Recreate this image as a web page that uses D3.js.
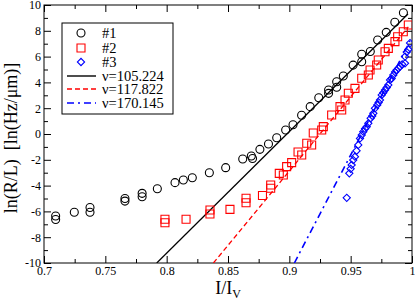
<!DOCTYPE html>
<html><head><meta charset="utf-8">
<script src="https://cdn.jsdelivr.net/npm/d3@7"></script>
<style>body{margin:0;background:#fff}svg{display:block}text{font-family:"Liberation Serif","Times New Roman",serif}</style>
</head><body><div id="c"></div>
<script>
const xTicks = [0.7,0.75,0.8,0.85,0.9,0.95,1];
const xTickLabels = ["0.7","0.75","0.8","0.85","0.9","0.95","1"];
const yTicks = [-10,-8,-6,-4,-2,0,2,4,6,8,10];
const seriesNames = ["#1","#2","#3"];
const fitLabels = ["\u03bd=105.224","\u03bd=117.822","\u03bd=170.145"];
const s1x = [0.7095,0.7095,0.7247,0.7375,0.7375,0.766,0.766,0.780,0.780,0.7924,0.8068,0.8136,0.8209,0.8348,0.8481,0.862,0.869,0.870,0.876,0.883,0.8897,0.897,0.903,0.910,0.917,0.924,0.932,0.932,0.9386,0.9386,0.944,0.952,0.959,0.959,0.966,0.972,0.979,0.986,0.993];
const s1y = [-6.36,-6.63,-6.07,-5.70,-6.07,-5.00,-5.20,-4.60,-4.86,-4.24,-3.77,-3.57,-3.39,-3.00,-2.61,-1.94,-1.70,-1.90,-1.19,-0.78,-0.29,0.31,0.72,1.45,2.12,2.81,3.15,3.41,3.62,4.05,4.50,5.34,5.60,6.18,6.39,7.29,7.88,8.66,9.40];
const s2x = [0.7986,0.7986,0.8158,0.8353,0.8353,0.8516,0.8647,0.8647,0.8781,0.8848,0.8848,0.8918,0.8951,0.8978,0.9019,0.9071,0.9101,0.9142,0.9182,0.9195,0.9264,0.9277,0.9345,0.9413,0.9427,0.9454,0.9481,0.9535,0.9590,0.9644,0.9658,0.9712,0.9725,0.978,0.9807,0.9861,0.9883,0.9929,0.997];
const s2y = [-6.61,-6.88,-6.61,-5.89,-6.20,-5.84,-4.98,-5.33,-4.77,-3.95,-4.21,-3.05,-3.18,-2.53,-2.22,-1.40,-1.63,-0.72,-0.85,0.08,0.31,0.57,1.47,2.12,1.86,2.64,3.16,3.54,4.32,4.57,4.96,5.35,5.74,6.38,6.64,7.16,7.54,7.93,8.45];
const s3x = [0.9468,0.9489,0.9500,0.9508,0.9521,0.9535,0.9548,0.9562,0.9576,0.9590,0.9603,0.9617,0.9631,0.9644,0.9663,0.9676,0.9685,0.9698,0.9717,0.9728,0.9739,0.9753,0.9766,0.9780,0.9794,0.9807,0.9821,0.9834,0.9848,0.9862,0.9875,0.9889,0.9902,0.9920,0.9943,0.9943,0.9957,0.9970,0.9984];
const s3y = [-4.95,-3.05,-2.70,-2.40,-2.02,-1.76,-1.30,-0.85,-0.34,-0.08,0.18,0.40,0.57,0.83,1.22,1.40,1.60,1.99,2.25,2.45,2.64,3.02,3.20,3.41,3.60,3.80,4.19,4.30,4.57,4.80,4.96,5.10,5.22,5.40,5.48,6.00,6.35,6.55,7.05];
const fit1 = [[0.7919,-10],[0.9967,9.3]];
const fit2 = [[0.8381,-10],[0.997,8.3]];
const fit3 = [[0.9041,-10],[0.9984,7.2]];

const W=415,H=303,m={l:44,r:3,t:5,b:40};
const svg=d3.select("#c").append("svg").attr("width",W).attr("height",H);
const x=d3.scaleLinear().domain([0.7,1]).range([m.l,W-m.r]);
const y=d3.scaleLinear().domain([-10,10]).range([H-m.b,m.t]);
svg.append("clipPath").attr("id","cp").append("rect").attr("x",m.l).attr("y",m.t).attr("width",W-m.l-m.r).attr("height",H-m.t-m.b);

const xMinor=d3.range(0.725,1,0.05);
const yMinor=d3.range(-9,10,2);
function ax(axis,tr){const g=svg.append("g").attr("transform",tr).call(axis);g.select(".domain").remove();g.selectAll("line").attr("stroke","#000");return g;}
let g=ax(d3.axisBottom(x).tickValues(xTicks).tickSize(-7).tickPadding(3).tickFormat((d,i)=>xTickLabels[i]),`translate(0,${H-m.b})`);
g.selectAll("text").attr("font-size",12).attr("fill","#000");
ax(d3.axisBottom(x).tickValues(xMinor).tickSize(-4).tickFormat(""),`translate(0,${H-m.b})`);
ax(d3.axisTop(x).tickValues(xTicks).tickSize(-7).tickFormat(""),`translate(0,${m.t})`);
ax(d3.axisTop(x).tickValues(xMinor).tickSize(-4).tickFormat(""),`translate(0,${m.t})`);
g=ax(d3.axisLeft(y).tickValues(yTicks).tickSize(-7).tickPadding(3).tickFormat(d=>String(d)),`translate(${m.l},0)`);
g.selectAll("text").attr("font-size",12).attr("fill","#000");
ax(d3.axisLeft(y).tickValues(yMinor).tickSize(-4).tickFormat(""),`translate(${m.l},0)`);
ax(d3.axisRight(y).tickValues(yTicks).tickSize(-7).tickFormat(""),`translate(${W-m.r},0)`);
ax(d3.axisRight(y).tickValues(yMinor).tickSize(-4).tickFormat(""),`translate(${W-m.r},0)`);
svg.append("rect").attr("x",m.l).attr("y",m.t).attr("width",W-m.l-m.r).attr("height",H-m.t-m.b).attr("fill","none").attr("stroke","#000").attr("stroke-width",1);

const plot=svg.append("g").attr("clip-path","url(#cp)");
const line=d3.line().x(d=>x(d[0])).y(d=>y(d[1]));
plot.append("path").attr("d",line(fit1)).attr("stroke","#000").attr("stroke-width",1.3).attr("fill","none");
plot.append("path").attr("d",line(fit2)).attr("stroke","#ff0000").attr("stroke-width",1.3).attr("stroke-dasharray","5,3").attr("fill","none");
plot.append("path").attr("d",line(fit3)).attr("stroke","#0000ff").attr("stroke-width",1.6).attr("stroke-dasharray","7,4,2,4").attr("fill","none");

const circ=d3.symbol().type(d3.symbolCircle).size(Math.PI*16);
const sq=d3.symbol().type(d3.symbolSquare).size(64);
const dia=d3.symbol().type(d3.symbolSquare).size(26);
const rot=[0,0,45];
plot.selectAll(".s1").data(s1x.map((v,i)=>[v,s1y[i]])).join("path").attr("d",circ).attr("transform",d=>`translate(${x(d[0])},${y(d[1])})`).attr("fill","none").attr("stroke","#000").attr("stroke-width",1.1);
plot.selectAll(".s2").data(s2x.map((v,i)=>[v,s2y[i]])).join("path").attr("d",sq).attr("transform",d=>`translate(${x(d[0])},${y(d[1])})`).attr("fill","none").attr("stroke","#ff0000").attr("stroke-width",1.1);
plot.selectAll(".s3").data(s3x.map((v,i)=>[v,s3y[i]])).join("path").attr("d",dia).attr("transform",d=>`translate(${x(d[0])},${y(d[1])}) rotate(45)`).attr("fill","none").attr("stroke","#0000ff").attr("stroke-width",1.1);

const lg=svg.append("g");
lg.append("rect").attr("x",62).attr("y",23).attr("width",111).attr("height",91).attr("fill","#fff").attr("stroke","#000").attr("stroke-width",1);
const rowY=[33,48,62,76,89,103];
const syms=[circ,sq,dia],cols=["#000","#ff0000","#0000ff"];
seriesNames.forEach((n,i)=>{
  lg.append("path").attr("d",syms[i]).attr("transform",`translate(81,${rowY[i]}) rotate(${rot[i]})`).attr("fill","none").attr("stroke",cols[i]).attr("stroke-width",1.1);
  lg.append("text").attr("x",102).attr("y",rowY[i]+5).attr("font-size",14.5).text(n);
});
const dashes=[null,"5,3","7,4,2,4"];
fitLabels.forEach((n,i)=>{
  const yy=rowY[i+3];
  lg.append("line").attr("x1",67).attr("x2",96).attr("y1",yy).attr("y2",yy).attr("stroke",cols[i]).attr("stroke-width",1.4).attr("stroke-dasharray",dashes[i]);
  lg.append("text").attr("x",102).attr("y",yy+5).attr("font-size",14.5).text(n);
});

svg.append("text").attr("transform",`translate(17,138) rotate(-90)`).attr("text-anchor","middle").attr("font-size",18).style("white-space","pre").text("ln(R/L)  [ln(Hz/\u03bcm)]");
const xl=svg.append("text").attr("x",228).attr("y",294).attr("text-anchor","middle").attr("font-size",18);
xl.append("tspan").text("I/I");
xl.append("tspan").attr("font-size",12).attr("dy",4).text("V");
</script></body></html>
